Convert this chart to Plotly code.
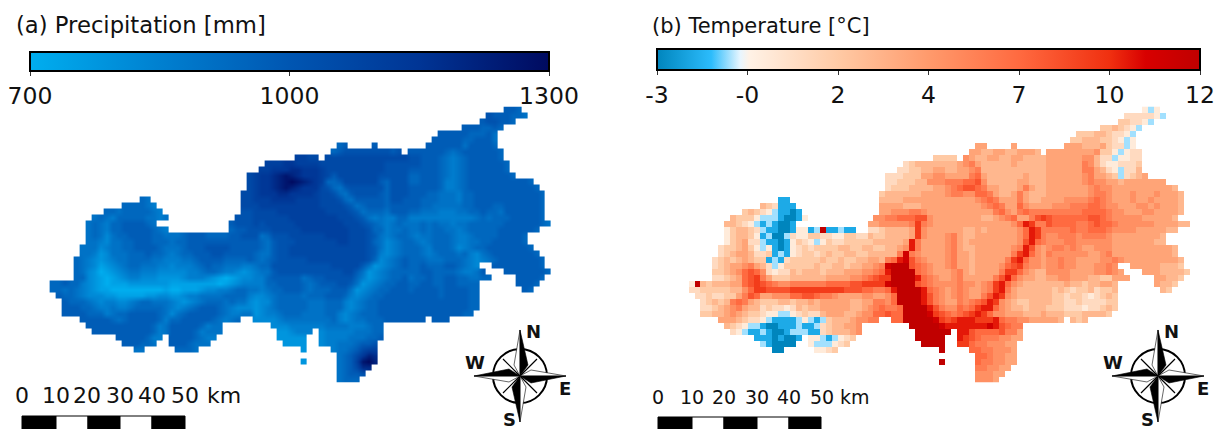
import numpy as np
import plotly.graph_objects as go

# each row: "startcol:levels" segments; level letters a..p are 16 equal steps of the colour bar
precip_rows = [
"77:hhg","74:ihhhggf","73:hiihhg","70:hhhgghg","66:hhhhhggghf","65:hhhhhgghhhf",
"49:gh 55:h 64:hhhhhhfhhhhg",
"48:ghiiiiiiiihi 61:hhhhhhgfghhhhhhg",
"42:kkjj 47:jjjjjjjjjjjjjjiihhhgfefghhhhhg",
"37:kkkllkkkkjjjjjjjjjjjiiiiiihhhgfefghhhhhhg",
"36:kklllmmlllkjjjjjjjjjjiiiihhhhhgfefghhhhhhg",
"34:jkllmnonmlllkjhjjjjjjjiiiiigghhhgfefghhhhhhhg",
"34:jkllmnoponmlkgghjjjjjjhgiiigghhhgeefghhhhhhhhhhg",
"34:jkllmnonmllljigfhiiiiiigiiihhhhhgeefghhhhhhhhhhhg",
"33:jjklllmmllllkjjigfhiiiihgiiihhhggfffegghhhhhhhhhhhg",
"16:gf 33:jjkkkllllkkkkjjjigfhhhhhgiihhhgggfffegghhhhhhhhhhhg",
"13:ggggfe 33:jjjkkkkkkkkkkjjjjihfghhhghhhhhggfffffgghhhgghhhhhhg",
"10:ggfgggggfe 33:iijjjjkkkkkkkkjjjjihfgggfhhhggfffeeeffgghggfhhhhhhg",
"8:fgfegggggffef 32:iiijjjjjjkkkkkkkkjjjihfefeeggeeeeeeeeeeefgfggghhhhhg",
"7:fgfegghhhhgf 31:hiiijijjjjjkkkkkkkkjjjihgfefgfffgfgffeffgggggghhhhhhgf",
"7:fgfegghhhhhgfe 31:ghhiiiijjjjjkkkkkkkkjjjiggeffgffgfggffefggggghhhhhhg",
"7:fgfdfgghhhhggfffghhhgggghhiiifgiiijjjjjjkkkkjjjihfefggfeffgggfeefgggghhhhg",
"7:ffedffgghhhgggfgghhhhhhhhhhhhgfhiiijjjjjjjkkjjjigfdefggfefgggfeeffgghhhhhg",
"6:fffdeffgghhhhgfffghhhiiiihhhhhgfhiijjjjjjjjjjjjjihfdefgggfegggfdefgghhhhhhhg",
"6:ffecdfffggghggfefgghhhiihhhhhgffhiijjjjjjjjjjjjjihedefgggfefgggfgedfghhhhhhhg",
"5:gfedcdeffggggffe" "eeffghhhhgggg" "hgfghiiiiijj" "jjjjjjjjigdefgh" "gggfff" "ggg" "fedefghhhhhhhg",
"5:gfedbcdefggfffee" "deeefghggfffe" "efggiiiiiiii" "iijjjjjhfcdefgh" "gghggg" "hhgfed 75:hhhhhhhhg",
"5:gfdcabcdeffeeedd" "dddeefggfeedc" "deffhiiiiiii" "iiiijjhfcdefggg" "gghhgg" "ggfeefh 77:hhhhhhhg",
"5:ggdcbabcdeedddcc" "ccdeeedcbabcd" "deeghhhhhfgh" "hiiiiigecdefggh" "fgghgg" "hhggffgg 79:hhhhg",
"1:gghg" "gedcbabbbccccccc" "bbbbbbbbabcde" "eeegghhhhgfg" "hhhiihfcdefgghh" "gghhgg" "hhgggg 79:hhhg",
"1:ggfg" "fedcbbaaaaaaaaab" "aabbbcddeefgg" "ffefgghhhgfg" "gghhhfcdefgghhh" "ghhhhg" "hhhhgg 80:hg",
"2:hgg" "fedddccbbbbbccdd" "ccdeeffffgggg" "eddefggggfgg" "ghhhgedefgghhhh" "hhhhhg" "hhhhgg",
"3:hg" "ggfedeeddefggfff" "edcdefgggfgff" "dcddfgggggff" "fgggedefgghhhhh" "hhhhhh" "hhhhgg",
"3:hh" "hggfeefeefgggggf" "edefghhhgfedd" "dcdefgggggff" "fgggedefgghhhhh" "hhhhhhhhhhgg",
"3:hh" "hhgggefgghhhhhgf" "dfghhhhhgfeef" "fcdeefgggfff" "fggedefggghhhhh" "hhhhhhhhhgg",
"6:hhhhhgfghhhhhgegghhhhhgfefg 35:ddddeffffff" "ffgedeffggghhhh" "hhh 65:hhh",
"7:hhhhhhhhhhhgefhhhhhgeff 38:dddeeeeeeffffeeefgg",
"8:hhhhhhhhhhgefhhhhgefff 39:ccdeee 46:deeeeefffgg",
"12:hhhhhgee 21:hhhhgfee 39:ccccc 46:deeeefffggh",
"13:hhhggf 21:hhhgfff 40:cccc 46:deefffghhi",
"15:ff 22:gggf 43:c 48:effghjkk",
"49:fghjlnm",
"43:c 49:fghkopn",
"49:fghjmm",
"49:fghhi",
"49:fggg",
]

temp_rows = [
"77:dcd","74:eeeeedc","73:ffeedc","70:ffgfedc","66:fffggfeedc","65:ffgggffedcd",
"49:hh 55:h 64:hhhggghfeecd",
"48:hhgghhgghhhg 61:hhhhhhhhiffdcdee",
"42:ffff 47:ihgghhgghhgggghhhhhhiigeecddee",
"37:efggggggghijhggggghggggghhhhhhjigeddeeef",
"36:eeffgghhgghhijggggggggggghhhhhhjjhgedceeg",
"34:eeefffhhiihhhhjkhgggggghggghhhhhhijhhgfcefgh",
"34:eefffggiiijjjkkliggggghhggghhhhhhijiihhghhhhhhh",
"34:efffgggghhijkllkjhhggghjhgghhhhhhhijiihhhhhhhhhhg",
"33:fgggggghhhhijjiikkjhgghjhggghhhhhhhijjihhhihhhihhhg",
"16:bb 33:gggghhhhhhhhhhhhijkjhhhjhgghhhhiiiijkjihhhihhihhhhg",
"13:gfebbb 33:hhhhggghhhhhhhhhhijkjhhkihhhhiiijjjkkjiihhhiihihhhg",
"10:fgfedcbbab 33:hhiiijjihhhhhhhhhhhjkihjkjjjjjjjjjkkkkjiihhhiihhhhg",
"8:gfffdcccbaabd 32:iijjkkkllihhhhhhhhgghijkhhjlmlkkkkkkllkjiiiiihhhhhg",
"7:ggfedcbcbaab 31:hhiiiiijmjihhhh" "hhhhhhhhhiknmjj" "lkkkkj" "jkl" "kkjiiiiiihhhhgg",
"7:dfggfecbbaabdd 21:bcpbbcbb 31:eefgggghmihhhhh" "hgghghhhhhiknmj" "jjjjkj" "jkk" "kjiiiihhhhhgg",
"7:dfggfdbcaacedd" "ffeeddffeegff" "gggghmihhhij" "hgghhhhhhhiknmj" "iijjji" "jjj" "jihhhhhhhhg",
"7:dfgheecbbabdfe" "dcdfeefffffgg" "ggghnjhhhhij" "hghhhhhhhhilnkj" "iiijji" "iii" "iihhhhhhhgg",
"6:effghfdcdbabdef" "effffggffggff" "gghinjhhhhij" "hgghhhhhhijnlih" "ijjiji" "hhi" "iihhhhhhhhhhg",
"6:efghhgeefbcbdef" "fefgffggffggg" "ggjojihhhhij" "hhghhhhhhjmnkih" "jiiiii" "ihh" "ijhhhhhhhhhhg",
"5:efgfghgffbcbefff" "ffgffgffgghhg" "jknoljihhhij" "hhghhhhhjmnkiih" "iijiih" "hhh" "iijihhhhhhhhhg",
"5:efghhijhgecdffff" "fgffggfgghhij" "oppplkjihhij" "hhghhhhiklmjiih" "iijiih" "hhiiji 75:hhhhhgggf",
"5:ffghiklkiedeegfg" "ggfggghhhiijk" "nppppkjihhhi" "jhghhhhjmmkihgg" "iiiihh" "hhiijih 77:hhhggggf",
"5:eefghklmjhfffggg" "ggghhhhiijklm" "mppppnkjihhi" "jhhhhhjlnkihhgg" "hhiihh" "hggffhhh 79:hhggf",
"1:dpgf" "ggghhklmlkjiijjj" "jjjkkkkllmmmm" "opppplkjiiii" "jiihijmnkihgggg" "ggghgg" "fgghhg 79:hggf",
"1:eeff" "fffggikmmllllmmm" "mmmmmmlllkkjj" "knppppnkjihi" "jihhijmnjhggggg" "gfgfef" "fgeffg 80:gf",
"2:eef" "eeffhjlkhhiiikkl" "lkjjihhhhiihh" "ikppppnljihi" "jihhjlnmihggggg" "gffeff" "edefgf",
"3:ef" "gfgjkjhgfffggfgg" "hghhhhhgghhjj" "ikppppnljihh" "jijklnmihgffggg" "gffeefeeeeff",
"3:ee" "fghijhggefeedegf" "gghhhhhgghijk" "jjkppppnljii" "kjkmnnkihggfggg" "fffeeedeefgf",
"3:ff" "gghihgffeddccdef" "eeghhhgghiikk" "lkkppppomlkj" "klmnmkiihhhgggh" "gggfffggggf",
"6:hhhgfeedcbbbbcdcbcfggghiijj 35:kkpppppomlm" "nnnmmmnkjjiihhh" "hhg 65:gfg",
"7:gfedccbaabbbcbbcefgghhi 38:ppppponnnnnnnonlkjj",
"8:edcbbcbaabcccbbefggghi 39:pppppp 46:nnlkkkkljjh",
"12:bbbabaab 21:ddcbcdef 39:ppppp 46:nmlkjjjiihh",
"13:cbaaaa 21:dcccdef 40:pppp 46:mmkjjiiihh",
"15:aa 22:ddef 43:p 48:kkjjiiih",
"49:kkjiihh",
"43:p 49:kjjiihh",
"49:jjiihh",
"49:iiihh",
"49:iiih",
]

precip_ticks = [700, 1000, 1300]
precip_labels = ["700", "1000", "1300"]
temp_ticks = [-3, -0.5, 2, 4.5, 7, 9.5, 12]
temp_labels = ["-3", "-0", "2", "4", "7", "10", "12"]
scale_labels = ["0", "10", "20", "30", "40", "50"]

W, H = 1216, 429
NCOL, NROW = 86, 46


def grid(rows, low, step):
    z = np.full((NROW, NCOL), np.nan)
    for r, row in enumerate(rows):
        for seg in row.split():
            start, vals = seg.split(":")
            for i, ch in enumerate(vals):
                c = int(start) + i
                if c < NCOL:
                    z[r, c] = low + step * (ord(ch) - 97)
    return z


z_p = grid(precip_rows, 700, 40)
z_t = grid(temp_rows, -3, 1)

cs_p = [[0, "#00aeef"], [0.25, "#0080d0"], [0.5, "#0056b2"], [0.75, "#003595"], [1, "#000a60"]]
def nt(v):
    return (v + 3) / 15
cs_t = [[0, "#0085bd"], [nt(-1.5), "#2cbcfc"], [nt(-0.7), "#e8f6ff"], [nt(-0.45), "#fff2e6"],
        [nt(2), "#ffcaa5"], [nt(4.5), "#ff9a6c"], [nt(7), "#ff6a40"], [nt(9.5), "#f03010"],
        [nt(10.5), "#d80000"], [1, "#c00000"]]

MAP_Y0, CELL_Y = 106.5, 6.0
CELL_X = 5.97
LEFT_X0, RIGHT_X0 = 43.6, 682.6
fig = go.Figure()


def add_map(z, cs, zmin, zmax, axn, x0, bar_x, bar_len, bar_y, bar_t, ticks, labels, smooth):
    fig.add_trace(go.Heatmap(
        z=z, x0=0.5, dx=1, y0=0.5, dy=1, colorscale=cs, zmin=zmin, zmax=zmax,
        xaxis=f"x{axn}", yaxis=f"y{axn}", zsmooth=smooth, hoverongaps=False,
        colorbar=dict(orientation="h", x=bar_x / W, xanchor="left", y=1 - bar_y / H, yanchor="top",
                      lenmode="pixels", len=bar_len, thicknessmode="pixels", thickness=bar_t,
                      xpad=0, ypad=0, outlinecolor="#000", outlinewidth=2, borderwidth=0,
                      tickmode="array", tickvals=ticks, ticktext=labels, ticks="outside",
                      ticklen=4, tickwidth=1, tickcolor="#333",
                      tickfont=dict(family="DejaVu Sans", size=23.5, color="#111")),
    ))
    ax = dict(visible=False, showgrid=False, zeroline=False, fixedrange=True)
    fig.update_layout({
        f"xaxis{axn}": dict(ax, domain=[x0 / W, (x0 + NCOL * CELL_X) / W], range=[0, NCOL], anchor=f"y{axn}"),
        f"yaxis{axn}": dict(ax, domain=[1 - (MAP_Y0 + NROW * CELL_Y) / H, 1 - MAP_Y0 / H], range=[NROW, 0], anchor=f"x{axn}"),
    })


add_map(z_p, cs_p, 700, 1300, "", LEFT_X0, 30, 519, 52, 19, precip_ticks, precip_labels, "best")
add_map(z_t, cs_t, -3, 12, "2", RIGHT_X0, 657, 543, 49, 21, temp_ticks, temp_labels, False)

shapes, annots = [], []


def px(x):
    return x / W


def py(y):
    return 1 - y / H


def poly(pts, fill, line="#000", lw=0.6):
    d = "M " + " L ".join(f"{px(x):.5f},{py(y):.5f}" for x, y in pts) + " Z"
    shapes.append(dict(type="path", xref="paper", yref="paper", path=d, fillcolor=fill,
                       line=dict(color=line, width=lw)))


def text(x, y, s, size, anchor="center", weight=None):
    f = dict(family="DejaVu Sans", size=size, color="#111")
    if weight:
        f["weight"] = weight
    annots.append(dict(xref="paper", yref="paper", x=px(x), y=py(y), text=s, showarrow=False,
                       xanchor=anchor, yanchor="middle", font=f, borderpad=0))


def scalebar(x0, y0, size, positions, km_x, y_text, edges):
    for lab, x in zip(scale_labels, positions):
        text(x, y_text, lab, size)
    text(km_x, y_text, "km", size)
    for i in range(5):
        fill = "#000" if i % 2 == 0 else "#fff"
        shapes.append(dict(type="rect", xref="paper", yref="paper", x0=px(edges[i]), x1=px(edges[i + 1]),
                           y0=py(y0), y1=py(431), fillcolor=fill, line=dict(color="#000", width=1)))


def compass(cx, cy):
    shapes.append(dict(type="circle", xref="paper", yref="paper", x0=px(cx - 27), x1=px(cx + 27),
                       y0=py(cy - 27), y1=py(cy + 27), line=dict(color="#000", width=2), fillcolor="rgba(0,0,0,0)"))
    for dx, dy in [(1, 1), (1, -1), (-1, 1), (-1, -1)]:
        poly([(cx, cy), (cx + dx * 17, cy + dy * 17)], "#000", lw=1.2)
    n = 46
    e = 46
    w0 = 8
    arms = [
        ((0, -n), (w0, -w0 - 3), "#000", (-w0 + 2, -w0 - 3), "#fff"),
        ((e, 0), (w0 + 3, w0 - 1), "#000", (w0 + 3, -w0 + 2), "#fff"),
        ((0, n), (-w0, w0 + 3), "#000", (w0 - 2, w0 + 3), "#fff"),
        ((-e, 0), (-w0 - 3, -w0 + 1), "#000", (-w0 - 3, w0 - 2), "#fff"),
    ]
    for tip, b1, f1, b2, f2 in arms:
        poly([(cx, cy), (cx + b2[0], cy + b2[1]), (cx + tip[0], cy + tip[1])], f2)
        poly([(cx, cy), (cx + b1[0], cy + b1[1]), (cx + tip[0], cy + tip[1])], f1)
    f = 18
    text(cx + 13, cy - 45, "N", f, weight="bold")
    text(cx - 45, cy - 14, "W", f, weight="bold")
    text(cx + 45, cy + 12, "E", f, weight="bold")
    text(cx - 11, cy + 43, "S", f, weight="bold")


text(15, 25, "(a) Precipitation [mm]", 22.7, "left")
text(651, 26, "(b) Temperature [°C]", 21, "left")
scalebar(22, 416, 22, [22, 56, 87, 120, 152, 185], 224, 395, [22, 56, 88, 120, 152, 185])
scalebar(658, 417, 19, [658, 692, 724, 757, 789, 822], 855, 397, [658, 692, 724, 757, 789, 821])
compass(520, 376)
compass(1158, 376)

fig.update_layout(width=W, height=H, margin=dict(l=0, r=0, t=0, b=0), paper_bgcolor="#fff",
                  plot_bgcolor="#fff", shapes=shapes, annotations=annots, showlegend=False)
fig.write_html("out.html", config={"displayModeBar": False},
               post_script="document.body.style.margin='0';document.documentElement.style.overflow='hidden';")
